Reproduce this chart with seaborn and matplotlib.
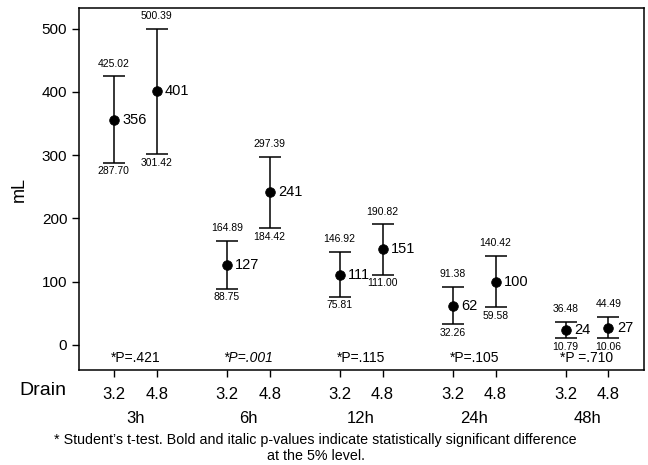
import seaborn as sns
import matplotlib.pyplot as plt
import matplotlib.transforms as mtransforms
import pandas as pd

groups = ['3h', '6h', '12h', '24h', '48h']
drains = ['3.2', '4.8']
means = [356, 401, 127, 241, 111, 151, 62, 100, 24, 27]
upper = [425.02, 500.39, 164.89, 297.39, 146.92, 190.82, 91.38, 140.42, 36.48, 44.49]
lower = [287.70, 301.42, 88.75, 184.42, 75.81, 111.00, 32.26, 59.58, 10.79, 10.06]
pvals = ['*P=.421', '*P=.001', '*P=.115', '*P=.105', '*P =.710']
signif = [False, True, False, False, False]

# x layout: pairs 1 unit apart, groups 2.63 units apart
gap = 2.63
rows = []
for i, g in enumerate(groups):
    for j, d in enumerate(drains):
        k = i * 2 + j
        rows.append({'group': g, 'drain': d, 'x': i * gap + j,
                     'mean': means[k], 'hi': upper[k], 'lo': lower[k]})
df = pd.DataFrame(rows)

sns.set_style('ticks', {'text.color': 'black', 'axes.labelcolor': 'black',
                        'xtick.color': 'black', 'ytick.color': 'black',
                        'axes.edgecolor': 'black'})
plt.rcParams['font.family'] = ['Liberation Sans', 'DejaVu Sans']

fig = plt.figure(figsize=(6.48, 4.65), dpi=100)
ax = fig.add_axes([0.122, 0.204, 0.872, 0.779])

# error bars
ax.errorbar(df['x'], df['mean'], yerr=[df['mean'] - df['lo'], df['hi'] - df['mean']],
            fmt='none', ecolor='black', elinewidth=1.1, capsize=8, capthick=1.1, zorder=2)
sns.scatterplot(data=df, x='x', y='mean', color='black', s=48, edgecolor='black',
                zorder=3, ax=ax, legend=False)

for _, r in df.iterrows():
    ax.annotate(str(r['mean']), (r['x'], r['mean']), xytext=(6, 0), textcoords='offset points',
                ha='left', va='center', fontsize=10.5)
    ax.annotate(f"{r['hi']:.2f}", (r['x'], r['hi']), xytext=(0, 5.5), textcoords='offset points',
                ha='center', va='bottom', fontsize=7.5)
    ax.annotate(f"{r['lo']:.2f}", (r['x'], r['lo']), xytext=(0, -2.5), textcoords='offset points',
                ha='center', va='top', fontsize=7.5)

for i, (p, s) in enumerate(zip(pvals, signif)):
    ax.text(i * gap + 0.5, -21, p, ha='center', va='center', fontsize=10,
            style='italic' if s else 'normal')

ax.set_xlim(-0.81, 12.35)
ax.set_ylim(-40, 533)
ax.set_yticks([0, 100, 200, 300, 400, 500])
ax.set_xticks(df['x'])
ax.set_xticklabels(df['drain'])
ax.tick_params(axis='y', labelsize=11, length=5, width=1)
ax.tick_params(axis='x', labelsize=12, length=5, width=1, pad=7)
ax.set_xlabel('')
ax.set_ylabel('mL', fontsize=13, labelpad=10)
for sp in ax.spines.values():
    sp.set_visible(True)
    sp.set_linewidth(1.1)
    sp.set_color('black')

trans = mtransforms.blended_transform_factory(ax.transData, ax.transAxes)
for i, g in enumerate(groups):
    ax.text(i * gap + 0.5, -0.133, g, transform=trans, ha='center', va='center', fontsize=12)
ax.text(-0.064, -0.055, 'Drain', transform=ax.transAxes, ha='center', va='center', fontsize=14)

fig.text(0.487, 0.037, "* Student\u2019s t-test. Bold and italic p-values indicate statistically significant difference\nat the 5% level.",
         ha='center', va='center', fontsize=10.3, multialignment='center', linespacing=1.15)

fig.savefig('out.png', dpi=100)
